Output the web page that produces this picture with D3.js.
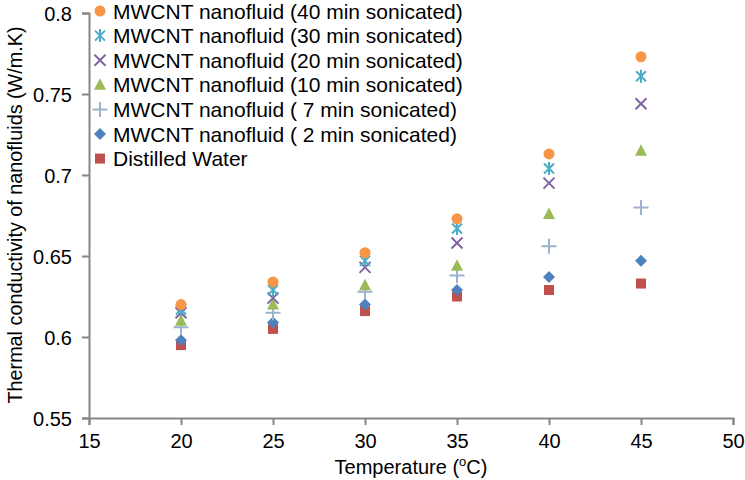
<!DOCTYPE html>
<html>
<head>
<meta charset="utf-8"/>
<script src="https://d3js.org/d3.v7.min.js"></script>
<style>
  body { margin: 0; background: white; }
  text { font-family: "Liberation Sans", Arial, sans-serif; fill: #000; }
</style>
</head>
<body>
<div id="chart"></div>
<script>
// temperatures (x) and thermal conductivity readings (y) per series
var temps = [20, 25, 30, 35, 40, 45];
var mw40  = [0.620, 0.634, 0.652, 0.673, 0.713, 0.773];
var mw30  = [0.617, 0.629, 0.647, 0.667, 0.704, 0.761];
var mw20  = [0.615, 0.624, 0.643, 0.658, 0.695, 0.744];
var mw10  = [0.610, 0.620, 0.632, 0.644, 0.676, 0.715];
var mw7   = [0.606, 0.615, 0.628, 0.638, 0.656, 0.680];
var mw2   = [0.598, 0.609, 0.620, 0.629, 0.637, 0.647];
var water = [0.595, 0.605, 0.616, 0.625, 0.629, 0.633];

var seriesNames = ["MWCNT nanofluid (40 min sonicated)", "MWCNT nanofluid (30 min sonicated)",
  "MWCNT nanofluid (20 min sonicated)", "MWCNT nanofluid (10 min sonicated)",
  "MWCNT nanofluid ( 7 min sonicated)", "MWCNT nanofluid ( 2 min sonicated)", "Distilled Water"];
var seriesValues = [mw40, mw30, mw20, mw10, mw7, mw2, water];
var seriesColors = ["#F79646", "#4BACC6", "#8064A2", "#9BBB59", "#9DB2CE", "#4F81BD", "#C0504D"];
var seriesShapes = ["circle", "star", "x", "triangle", "plus", "diamond", "square"];

var xTicks = [15, 20, 25, 30, 35, 40, 45, 50];
var yTicks = [0.55, 0.6, 0.65, 0.7, 0.75, 0.8];

var W = 745, H = 480;
var margin = {top: 13, right: 12, bottom: 62, left: 89};

var svg = d3.select("#chart").append("svg")
    .attr("width", W).attr("height", H);

var x = d3.scaleLinear().domain([15, 50]).range([margin.left, W - margin.right]);
var y = d3.scaleLinear().domain([0.55, 0.8]).range([H - margin.bottom, margin.top]);

var axisColor = "#868686";

// axes
var xAxis = svg.append("g")
    .attr("transform", "translate(0," + (H - margin.bottom) + ")")
    .call(d3.axisBottom(x).tickValues(xTicks).tickSize(7).tickPadding(5).tickFormat(d3.format("d")));
var yAxis = svg.append("g")
    .attr("transform", "translate(" + margin.left + ",0)")
    .call(d3.axisLeft(y).tickValues(yTicks).tickSize(7).tickPadding(10).tickFormat(function(d){ return String(+d.toFixed(2)); }));

[xAxis, yAxis].forEach(function(a){
  a.select(".domain").attr("stroke", axisColor).attr("stroke-width", 2);
  a.selectAll(".tick line").attr("stroke", axisColor).attr("stroke-width", 2);
  a.selectAll(".tick text").style("font-family", "Liberation Sans, Arial, sans-serif")
    .style("font-size", "20px").attr("fill", "#000");
});
xAxis.selectAll(".tick text").attr("dy", "0.9em");
yAxis.selectAll(".tick text").attr("dy", "0.35em");

// axis titles
svg.append("text")
    .attr("x", 411)
    .attr("y", 474)
    .attr("text-anchor", "middle")
    .style("font-size", "20px")
    .html('Temperature (<tspan dy="-8" font-size="13px">o</tspan><tspan dy="8">C)</tspan>');

svg.append("text")
    .attr("transform", "translate(22," + 215 + ") rotate(-90)")
    .attr("text-anchor", "middle")
    .style("font-size", "19.8px")
    .text("Thermal conductivity of nanofluids (W/m.K)");

// marker drawing
function marker(g, shape, color) {
  if (shape === "circle") {
    g.append("circle").attr("r", 5.5).attr("fill", color);
  } else if (shape === "square") {
    g.append("rect").attr("x", -5).attr("y", -5).attr("width", 10).attr("height", 10).attr("fill", color);
  } else if (shape === "diamond") {
    g.append("path").attr("d", "M0,-6L6,0L0,6L-6,0Z").attr("fill", color);
  } else if (shape === "triangle") {
    g.append("path").attr("d", "M0,-6.5L6,5L-6,5Z").attr("fill", color);
  } else if (shape === "x") {
    g.append("path").attr("d", "M-5.5,-5.5L5.5,5.5M-5.5,5.5L5.5,-5.5")
      .attr("stroke", color).attr("stroke-width", 2).attr("fill", "none");
  } else if (shape === "star") {
    g.append("path").attr("d", "M-5,-5L5,5M-5,5L5,-5M0,-6.5L0,6.5")
      .attr("stroke", color).attr("stroke-width", 2).attr("fill", "none");
  } else if (shape === "plus") {
    g.append("path").attr("d", "M-7.5,0L7.5,0M0,-7.5L0,7.5")
      .attr("stroke", color).attr("stroke-width", 2).attr("fill", "none");
  }
}

// points: draw in reverse order so the first legend entry is on top
for (var i = seriesValues.length - 1; i >= 0; i--) {
  var sg = svg.append("g").attr("class", "series");
  seriesValues[i].forEach(function(v, j) {
    var mg = sg.append("g").attr("transform", "translate(" + x(temps[j]) + "," + y(v) + ")");
    marker(mg, seriesShapes[i], seriesColors[i]);
  });
}

// legend
var legend = svg.append("g").attr("transform", "translate(100,11)");
seriesNames.forEach(function(name, i) {
  var row = legend.append("g").attr("transform", "translate(0," + (i * 24.6) + ")");
  marker(row.append("g"), seriesShapes[i], seriesColors[i]);
  row.append("text").attr("x", 13).attr("dy", "0.36em")
    .style("font-size", "21px")
    .text(name);
});
</script>
</body>
</html>
